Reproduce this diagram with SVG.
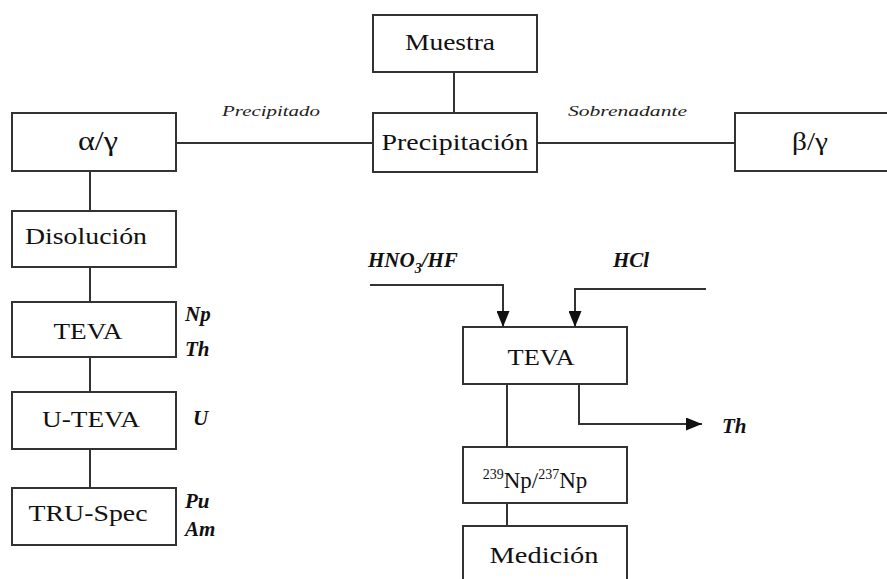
<svg xmlns="http://www.w3.org/2000/svg" width="887" height="579" viewBox="0 0 887 579">
<defs>
<style>
.box{fill:#fff;stroke:#333;stroke-width:2}
.ln{fill:none;stroke:#333;stroke-width:2}
.t{font-family:"Liberation Serif","Times New Roman",serif;font-size:23px;fill:#111;text-anchor:middle}
.lb{font-family:"Liberation Serif","Times New Roman",serif;font-size:21px;font-weight:bold;font-style:italic;fill:#111}
.it{font-family:"Liberation Serif","Times New Roman",serif;font-size:15px;font-style:italic;fill:#222}
</style>
<marker id="ah2" viewBox="0 0 10 10" refX="10" refY="5" markerWidth="16" markerHeight="13" markerUnits="userSpaceOnUse" orient="auto" preserveAspectRatio="none">
<path d="M0,0 L10,5 L0,10 Z" fill="#111"/>
</marker>
</defs>
<rect width="887" height="579" fill="#fff"/>
<g id="connectors">
<line class="ln" x1="454" y1="72" x2="454" y2="113"/>
<line class="ln" x1="176" y1="143" x2="373" y2="143"/>
<line class="ln" x1="537" y1="143" x2="735" y2="143"/>
<line class="ln" x1="90" y1="171" x2="90" y2="211"/>
<line class="ln" x1="90" y1="267" x2="90" y2="302"/>
<line class="ln" x1="90" y1="357" x2="90" y2="392"/>
<line class="ln" x1="90" y1="449" x2="90" y2="488"/>
<polyline class="ln" points="370,285 503,285 503,327" marker-end="url(#ah2)"/>
<polyline class="ln" points="706,289 575,289 575,327" marker-end="url(#ah2)"/>
<line class="ln" x1="507" y1="384" x2="507" y2="447"/>
<line class="ln" x1="507" y1="503" x2="507" y2="526"/>
<polyline class="ln" points="579,384 579,424 702,424" marker-end="url(#ah2)"/>
</g>
<g id="muestra"><rect class="box" x="373" y="15" width="164" height="57"/><text class="t" x="450" y="50" textLength="90" lengthAdjust="spacingAndGlyphs">Muestra</text></g>
<g id="precipitacion"><rect class="box" x="373" y="113" width="164" height="59"/><text class="t" x="455" y="150" textLength="147" lengthAdjust="spacingAndGlyphs">Precipitación</text></g>
<g id="alfa"><rect class="box" x="12" y="113" width="164" height="58"/><text class="t" x="98" y="150" style="font-size:27px" textLength="40" lengthAdjust="spacingAndGlyphs">α/γ</text></g>
<g id="beta"><rect class="box" x="735" y="113" width="160" height="58"/><text class="t" x="810" y="150" style="font-size:26px" textLength="36" lengthAdjust="spacingAndGlyphs">β/γ</text></g>
<g id="disolucion"><rect class="box" x="12" y="211" width="164" height="56"/><text class="t" x="86" y="244" textLength="122" lengthAdjust="spacingAndGlyphs">Disolución</text></g>
<g id="teva1"><rect class="box" x="12" y="302" width="164" height="55"/><text class="t" x="88" y="339" textLength="69" lengthAdjust="spacingAndGlyphs">TEVA</text></g>
<g id="uteva"><rect class="box" x="12" y="392" width="164" height="57"/><text class="t" x="91" y="427" textLength="98" lengthAdjust="spacingAndGlyphs">U-TEVA</text></g>
<g id="truspec"><rect class="box" x="12" y="488" width="164" height="57"/><text class="t" x="88" y="521" textLength="119" lengthAdjust="spacingAndGlyphs">TRU-Spec</text></g>
<g id="labels-left">
<text class="lb" x="185" y="321">Np</text>
<text class="lb" x="185" y="356">Th</text>
<text class="lb" x="193" y="425">U</text>
<text class="lb" x="185" y="508">Pu</text>
<text class="lb" x="185" y="536">Am</text>
</g>
<g id="edge-labels">
<text class="it" x="222" y="116" textLength="98" lengthAdjust="spacingAndGlyphs">Precipitado</text>
<text class="it" x="568" y="116" textLength="119" lengthAdjust="spacingAndGlyphs">Sobrenadante</text>
</g>
<g id="reactivos">
<text class="lb" x="368" y="267">HNO<tspan font-size="14" dy="6">3</tspan><tspan dy="-6">/HF</tspan></text>
<text class="lb" x="613" y="267">HCl</text>
</g>
<g id="teva2"><rect class="box" x="463" y="327" width="164" height="57"/><text class="t" x="541" y="365" textLength="67" lengthAdjust="spacingAndGlyphs">TEVA</text></g>
<g id="th-out"><text class="lb" x="722" y="433">Th</text></g>
<g id="np"><rect class="box" x="463" y="447" width="164" height="56"/><text class="t" x="535" y="488"><tspan font-size="14" dy="-9">239</tspan><tspan dy="9">Np/</tspan><tspan font-size="14" dy="-9">237</tspan><tspan dy="9">Np</tspan></text></g>
<g id="medicion"><rect class="box" x="463" y="526" width="164" height="70"/><text class="t" x="544" y="563" textLength="109" lengthAdjust="spacingAndGlyphs">Medición</text></g>
</svg>
